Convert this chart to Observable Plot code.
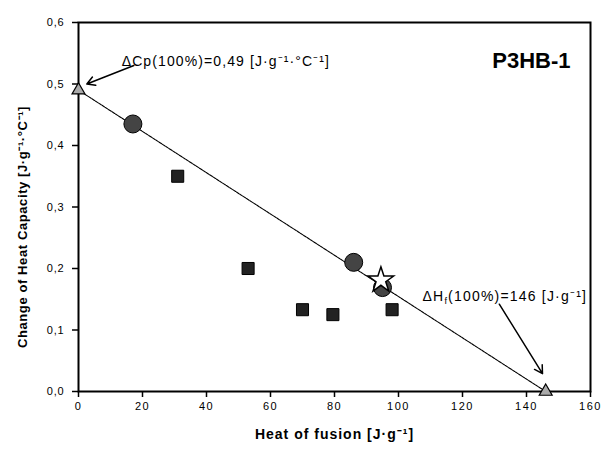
<!DOCTYPE html>
<html>
<head>
<meta charset="utf-8">
<script src="https://cdn.jsdelivr.net/npm/d3@7"></script>
<script src="https://cdn.jsdelivr.net/npm/@observablehq/plot@0.6"></script>
<style>
  html, body { margin: 0; padding: 0; background: #fff; }
  #chart svg { font-family: "Liberation Sans", Arial, sans-serif; }
  .xt text { letter-spacing: 1.5px; }
  .yt text { letter-spacing: 0.8px; }
  .wide1 text { letter-spacing: 1.1px; }
  .wide2 text { letter-spacing: 1.2px; }
  .wide3 text { letter-spacing: 0.6px; }
  .wide4 text { letter-spacing: 1px; }
</style>
</head>
<body>
<div id="chart"></div>
<script>
// Reference points (100% crystalline / amorphous extrapolations)
const triX = [0, 146];
const triY = [0.49, 0.0];
// Circles
const circX = [17, 86, 95];
const circY = [0.435, 0.21, 0.169];
// Squares
const sqX = [31, 53, 70, 79.5, 98];
const sqY = [0.35, 0.2, 0.133, 0.125, 0.133];
// Star
const starX = [94.5];
const starY = [0.181];
// Axis ticks
const xTicks = [0, 20, 40, 60, 80, 100, 120, 140, 160];
const yTicks = [0, 0.1, 0.2, 0.3, 0.4, 0.5, 0.6];

const tri = triX.map((x, i) => ({x, y: triY[i]}));
const circ = circX.map((x, i) => ({x, y: circY[i]}));
const sq = sqX.map((x, i) => ({x, y: sqY[i]}));
const star = starX.map((x, i) => ({x, y: starY[i]}));

const fmt = d => d3.format(".1f")(d).replace(".", ",");

const chart = Plot.plot({
  width: 604,
  height: 450,
  marginLeft: 78,
  marginRight: 14,
  marginTop: 22,
  marginBottom: 59,
  style: {fontFamily: "Liberation Sans, Arial, sans-serif", fontSize: "11px", color: "#000", background: "#fff"},
  x: {domain: [0, 160], ticks: xTicks},
  y: {domain: [0, 0.6], ticks: yTicks},
  marks: [
    Plot.frame({stroke: "#000", strokeWidth: 2}),
    Plot.axisX({ticks: xTicks, tickSize: 6, tickPadding: 5, tickFormat: d => String(d), label: null, fontSize: 11, stroke: "#000", strokeWidth: 1.5, className: "xt"}),
    Plot.axisY({ticks: yTicks, tickSize: 6, tickPadding: 8, tickFormat: fmt, label: null, fontSize: 11, stroke: "#000", strokeWidth: 1.5, className: "yt"}),
    // linear line through the two extrapolated points
    Plot.line(tri, {x: "x", y: "y", stroke: "#000", strokeWidth: 1.1, strokeDasharray: "3,1"}),
    Plot.arrow([{x1: 17.3, y1: 0.53, x2: 2.6, y2: 0.5}], {x1: "x1", y1: "y1", x2: "x2", y2: "y2", stroke: "#000", strokeWidth: 1.5, headLength: 9, bend: false}),
    Plot.arrow([{x1: 131.5, y1: 0.142, x2: 145, y2: 0.029}], {x1: "x1", y1: "y1", x2: "x2", y2: "y2", stroke: "#000", strokeWidth: 1.5, headLength: 9, bend: false}),
    Plot.dot(sq, {x: "x", y: "y", symbol: "square", r: 6.8, fill: "#222", stroke: "#000", strokeWidth: 1}),
    Plot.dot(circ, {x: "x", y: "y", symbol: "circle", r: 9, fill: "#444", stroke: "#000", strokeWidth: 1}),
    Plot.dot(star, {x: "x", y: "y", symbol: "star", r: 8, fill: "#fff", stroke: "#000", strokeWidth: 1.5}),
    Plot.dot(tri, {x: "x", y: "y", symbol: "triangle", r: 4.8, fill: "#aaa", stroke: "#000", strokeWidth: 1.2}),
    Plot.text(["ΔCp(100%)=0,49 [J·g⁻¹·°C⁻¹]"], {x: 13.5, y: 0.537, text: d => d, textAnchor: "start", fontSize: 14, fill: "#000", className: "wide1"}),
    Plot.text(["ΔH_f(100%)=146 [J·g⁻¹]"], {x: 107.5, y: 0.154, text: d => d, textAnchor: "start", fontSize: 14, fill: "#000", className: "wide2"}),
    Plot.text(["P3HB-1"], {frameAnchor: "top-right", dx: -20, dy: 30, text: d => d, fontSize: 22, fontWeight: "bold", fill: "#000"}),
    Plot.text(["Change of Heat Capacity [J·g⁻¹·°C⁻¹]"], {frameAnchor: "left", textAnchor: "middle", dx: -56, dy: 20, rotate: -90, text: d => d, fontSize: 13, fontWeight: "bold", fill: "#000", className: "wide3"}),
    Plot.text(["Heat of fusion [J·g⁻¹]"], {frameAnchor: "bottom", dy: 47, text: d => d, fontSize: 14, fontWeight: "bold", fill: "#000", className: "wide4"})
  ]
});

// Render subscript f in ΔH_f
chart.querySelectorAll("text").forEach(t => {
  if (t.textContent.includes("ΔH_f")) {
    const parts = t.textContent.split("_f");
    t.textContent = "";
    const ns = "http://www.w3.org/2000/svg";
    const a = document.createElementNS(ns, "tspan"); a.textContent = parts[0];
    const b = document.createElementNS(ns, "tspan"); b.textContent = "f"; b.setAttribute("font-size", "9"); b.setAttribute("dy", "3");
    const c = document.createElementNS(ns, "tspan"); c.textContent = parts[1]; c.setAttribute("dy", "-3");
    t.append(a, b, c);
  }
});

document.getElementById("chart").append(chart);
</script>
</body>
</html>
